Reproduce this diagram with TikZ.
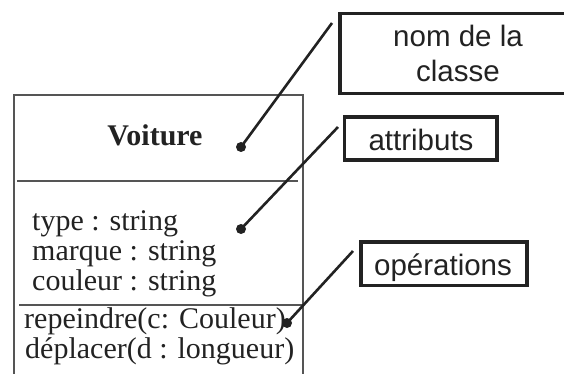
\documentclass[tikz,border=0pt]{standalone}
\usepackage{fontspec}
\setmainfont{Liberation Serif}
\newfontfamily\lblfont{Liberation Sans}
\definecolor{boxgray}{HTML}{555555}
\definecolor{ink}{HTML}{222222}
\begin{document}
\begin{tikzpicture}[x=1pt,y=-1pt,
  classline/.style={draw=boxgray, line width=2pt},
  classtxt/.style={font=\fontsize{30}{30}\selectfont, text=ink, inner sep=0pt, anchor=base west},
  titletxt/.style={font=\fontsize{30}{30}\selectfont\bfseries, text=ink, inner sep=0pt, anchor=base},
  lblbox/.style={draw=ink, line width=3.3pt, rectangle, inner sep=0pt},
  lbltxt/.style={font=\lblfont\fontsize{29.5}{29.5}\selectfont, text=ink, inner sep=0pt, anchor=base},
  conn/.style={draw=ink, line width=2.6pt},
  dotmark/.style={circle, fill=ink, inner sep=0pt, minimum size=10pt}]
\useasboundingbox (0,0) rectangle (564,374);
\clip (0,0) rectangle (564,374);

% class box (open at bottom)
\draw[classline] (13.5,380) -- (13.5,94.7) -- (302.7,94.7) -- (302.7,380);
\draw[classline] (17,181) -- (298,181);
\draw[classline] (19,305) -- (302.7,305);

% class texts
\node[titletxt] (title) at (155,146) {Voiture};
\node[classtxt] (a1) at (32,230) {type : string};
\node[classtxt] (a2) at (32,260) {marque : string};
\node[classtxt] (a3) at (32,290) {couleur : string};
\node[classtxt] (o1) at (24,328) {repeindre(c: Couleur)};
\node[classtxt] (o2) at (25,358) {déplacer(d : longueur)};

% label boxes
\node[lblbox, minimum width=237pt, minimum height=80pt] (nombox) at (458.5,53.5) {};
\node[lbltxt] (nomtxt1) at (458,47) {nom de la};
\node[lbltxt] (nomtxt2) at (458,82) {classe};
\node[lblbox, minimum width=152.5pt, minimum height=43pt] (attrbox) at (420.75,138.5) {};
\node[lbltxt] (attrtxt) at (421,150) {attributs};
\node[lblbox, minimum width=166pt, minimum height=43.3pt] (opbox) at (444,263.7) {};
\node[lbltxt] (optxt) at (443,275) {opérations};

% dots and connector ends
\node[dotmark] (d1) at (241,147) {};
\node[dotmark] (d2) at (241,229) {};
\node[dotmark] (d3) at (287,323) {};
\coordinate (e1) at (332,23);
\coordinate (e2) at (338,127);
\coordinate (e3) at (353,251);

\draw[conn] (d1.center) -- (e1);
\draw[conn] (d2.center) -- (e2);
\draw[conn] (d3.center) -- (e3);
\end{tikzpicture}
\end{document}
